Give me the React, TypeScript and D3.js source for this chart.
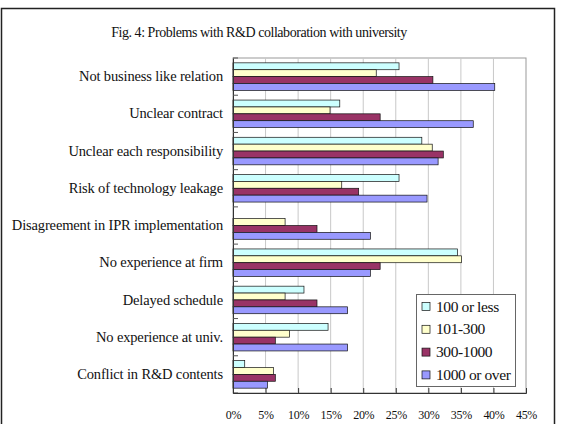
import React, { useEffect, useRef } from 'react';
import * as d3 from 'd3';

const categories = [
    'Not business like relation',
    'Unclear contract',
    'Unclear each responsibility',
    'Risk of technology leakage',
    'Disagreement in IPR implementation',
    'No experience at firm',
    'Delayed schedule',
    'No experience at univ.',
    'Conflict in R&D contents',
];

const seriesNames = ['100 or less', '101-300', '300-1000', '1000 or over'];
const seriesColors = ['#CCFFFF', '#FFFFCC', '#993366', '#9999FF'];

// percent values, one array per firm-size group
const upTo100 = [25.5, 16.4, 29.0, 25.5, 0, 34.5, 10.9, 14.6, 1.8];
const from101to300 = [22.0, 14.9, 30.6, 16.7, 8.0, 35.1, 8.0, 8.7, 6.2];
const from300to1000 = [30.7, 22.6, 32.3, 19.3, 12.9, 22.6, 12.9, 6.5, 6.5];
const over1000 = [40.2, 36.9, 31.5, 29.8, 21.1, 21.1, 17.6, 17.6, 5.3];

const xTicks = [0, 5, 10, 15, 20, 25, 30, 35, 40, 45];

const FONT = 'Liberation Serif';

const App: React.FC = () => {
    const svgRef = useRef<SVGSVGElement | null>(null);

    useEffect(() => {
        if (!svgRef.current) return;
        const svg = d3.select(svgRef.current);
        svg.selectAll('*').remove();

        const width = 564;
        const height = 424;
        const plot = { left: 233, right: 526, top: 58, bottom: 393 };
        const values = [upTo100, from101to300, from300to1000, over1000];

        svg.attr('width', width).attr('height', height);

        // outer frame
        svg.append('rect')
            .attr('x', 1.5).attr('y', 8.5)
            .attr('width', 553).attr('height', 430)
            .attr('fill', 'white')
            .attr('stroke', '#222')
            .attr('stroke-width', 1.5);

        svg.append('text')
            .attr('x', 259).attr('y', 37)
            .attr('text-anchor', 'middle')
            .style('font-family', FONT)
            .attr('font-size', 14)
            .attr('letter-spacing', -0.45)
            .attr('fill', '#111')
            .text('Fig. 4: Problems with R&D collaboration with university');

        const x = d3.scaleLinear().domain([0, 45]).range([plot.left, plot.right]);
        const y = d3.scaleBand<string>().domain(categories).range([plot.top, plot.bottom]).padding(0);
        const pad = y.bandwidth() * 0.13;
        const ys = d3.scaleBand<string>()
            .domain(seriesNames)
            .range([pad, y.bandwidth() - pad])
            .padding(0);

        // plot border + gridlines
        svg.append('rect')
            .attr('x', plot.left).attr('y', plot.top)
            .attr('width', plot.right - plot.left).attr('height', plot.bottom - plot.top)
            .attr('fill', 'white')
            .attr('stroke', '#999')
            .attr('stroke-width', 1);

        svg.append('g')
            .selectAll('line')
            .data(xTicks.slice(1, -1))
            .enter()
            .append('line')
            .attr('x1', (d) => x(d)).attr('x2', (d) => x(d))
            .attr('y1', plot.top).attr('y2', plot.bottom)
            .attr('stroke', '#c8c8c8')
            .attr('stroke-width', 1);

        // bars
        values.forEach((arr, si) => {
            svg.append('g')
                .selectAll('rect')
                .data(arr)
                .enter()
                .append('rect')
                .attr('x', plot.left)
                .attr('y', (d, i) => (y(categories[i]) as number) + (ys(seriesNames[si]) as number))
                .attr('width', (d) => x(d) - plot.left)
                .attr('height', ys.bandwidth())
                .attr('fill', seriesColors[si])
                .attr('stroke', (d) => (d > 0 ? '#111' : 'none'))
                .attr('stroke-width', 0.7);
        });

        // left axis (category)
        const yAxis = d3.axisLeft(y).tickSize(0).tickPadding(10);
        svg.append('g')
            .attr('transform', `translate(${plot.left},0)`)
            .call(yAxis)
            .call((g) => g.select('.domain').attr('stroke', '#333'))
            .call((g) => g.selectAll('text')
                .style('font-family', FONT)
                .attr('font-size', 14.5)
                .attr('letter-spacing', -0.15)
                .attr('fill', '#111'));

        // category boundary ticks (inside)
        svg.append('g')
            .selectAll('line')
            .data(categories.concat(['end']))
            .enter()
            .append('line')
            .attr('x1', plot.left).attr('x2', plot.left + 5)
            .attr('y1', (d, i) => (i < categories.length ? (y(d) as number) : plot.bottom))
            .attr('y2', (d, i) => (i < categories.length ? (y(d) as number) : plot.bottom))
            .attr('stroke', '#555');

        // bottom axis
        const xAxis = d3.axisBottom(x)
            .tickValues(xTicks)
            .tickSize(-5)
            .tickPadding(17)
            .tickFormat((d) => `${d}%`);
        svg.append('g')
            .attr('transform', `translate(0,${plot.bottom})`)
            .call(xAxis)
            .call((g) => g.select('.domain').attr('stroke', '#333'))
            .call((g) => g.selectAll('.tick line').attr('stroke', '#333'))
            .call((g) => g.selectAll('text')
                .style('font-family', FONT)
                .attr('font-size', 12)
                .attr('letter-spacing', -0.3)
                .attr('fill', '#111'));

        // legend
        const legend = svg.append('g').attr('transform', 'translate(416,294)');
        legend.append('rect')
            .attr('x', 0.5).attr('y', 0.5)
            .attr('width', 99).attr('height', 92)
            .attr('fill', 'white')
            .attr('stroke', '#666');
        const rows = legend.selectAll('g.row')
            .data(seriesNames)
            .enter()
            .append('g')
            .attr('class', 'row')
            .attr('transform', (d, i) => `translate(0,${12.5 + i * 22.8})`);
        rows.append('rect')
            .attr('x', 6).attr('y', -4)
            .attr('width', 8).attr('height', 8)
            .attr('fill', (d, i) => seriesColors[i])
            .attr('stroke', '#111')
            .attr('stroke-width', 0.7);
        rows.append('text')
            .attr('x', 20).attr('y', 5)
            .style('font-family', FONT)
            .attr('font-size', 15.5)
            .attr('letter-spacing', -0.4)
            .attr('fill', '#111')
            .text((d) => d);
    }, []);

    return <svg ref={svgRef} style={{ position: 'absolute', left: 0, top: 0 }}></svg>;
};

export default App;
